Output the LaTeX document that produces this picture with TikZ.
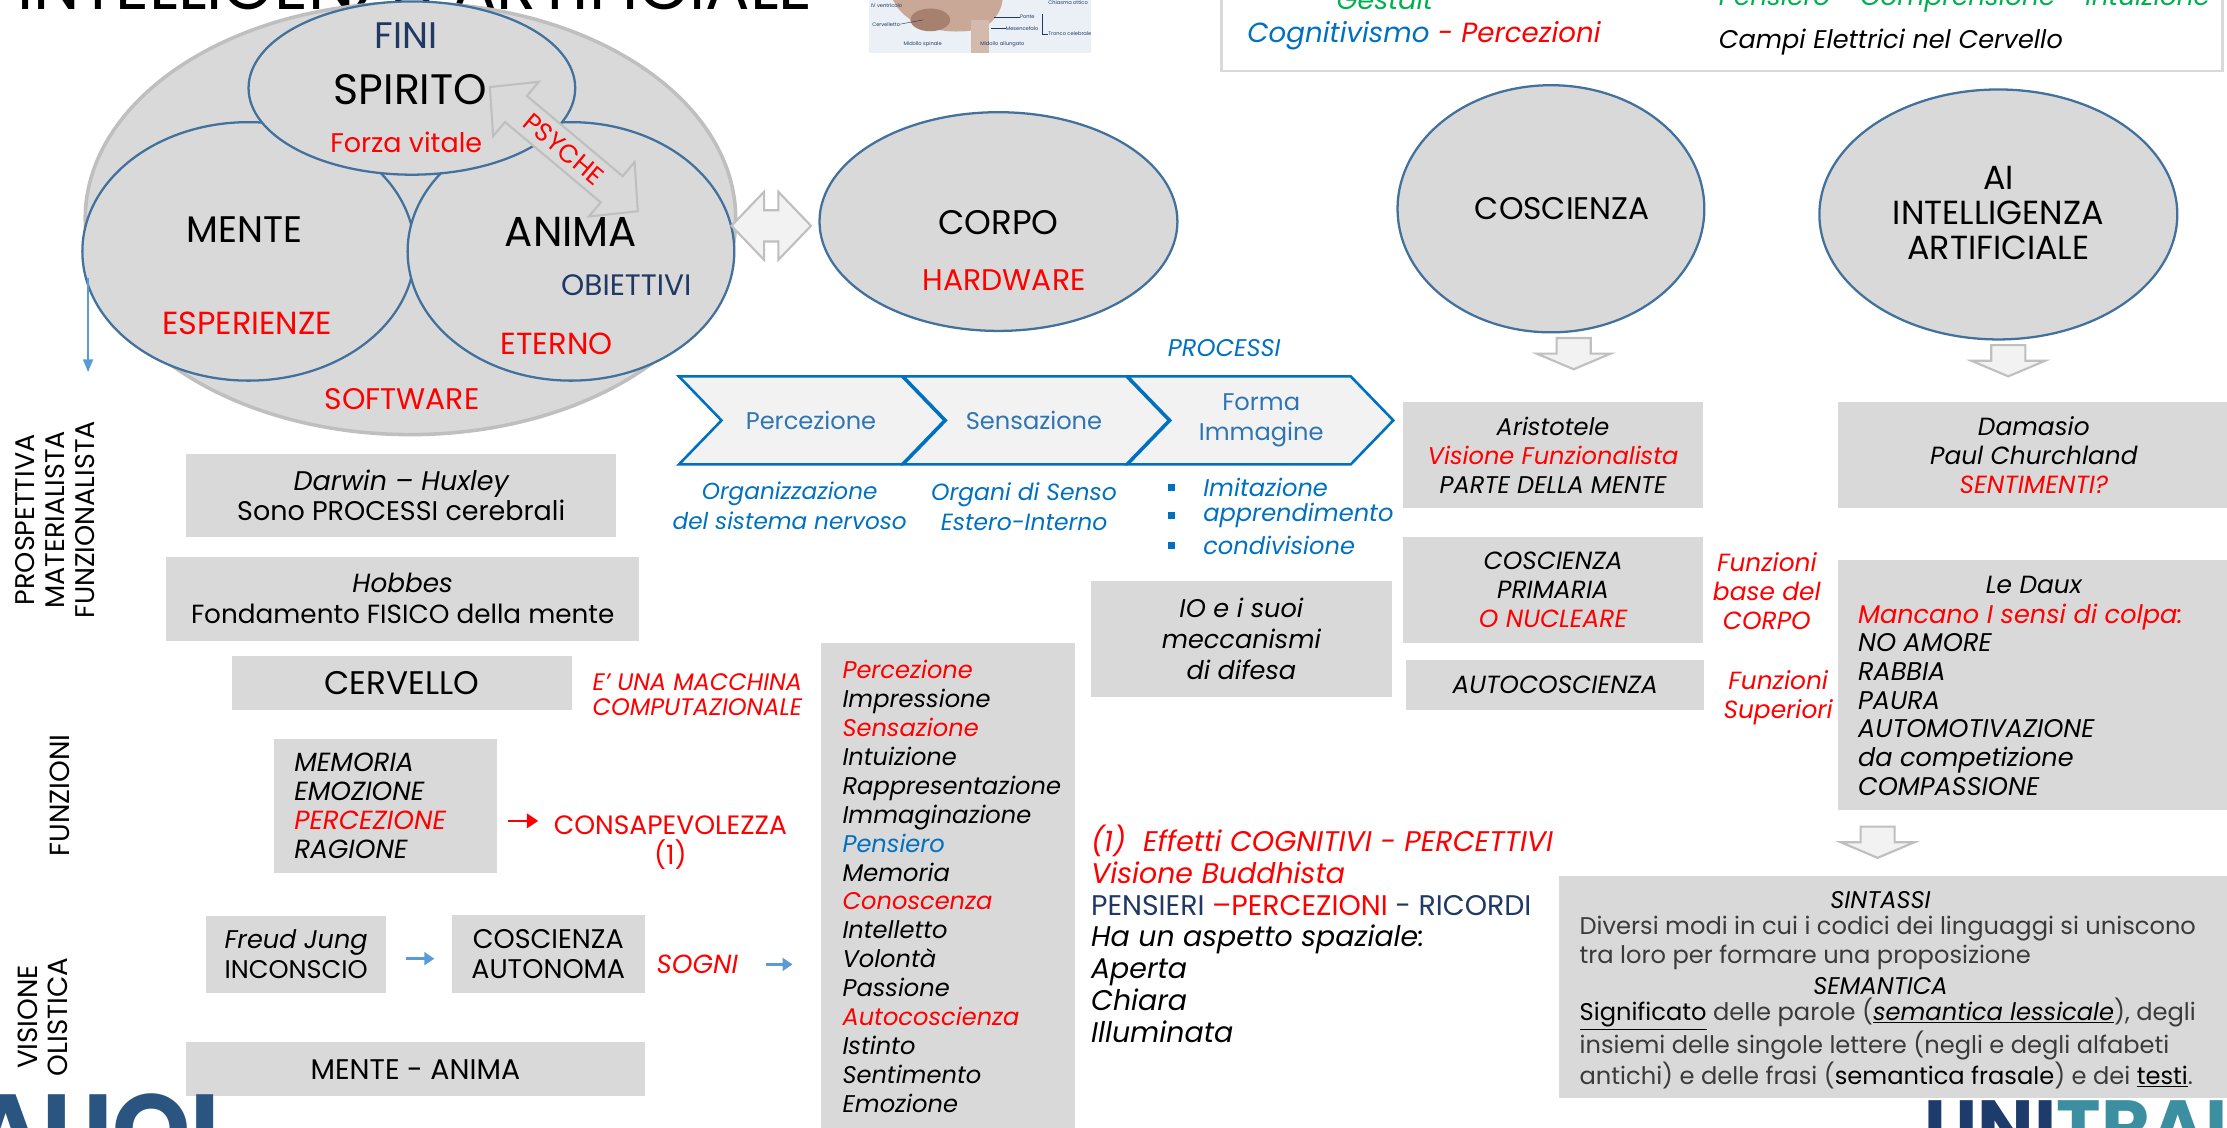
\documentclass[tikz,border=0pt]{standalone}
\usepackage{fontspec}
\setmainfont{Poppins}
\usetikzlibrary{shapes.geometric,arrows.meta}

\definecolor{gfill}{HTML}{D9D9D9}
\definecolor{ellblue}{HTML}{41719C}
\definecolor{ringgrey}{HTML}{BFBFBF}
\definecolor{navy}{HTML}{1F3864}
\definecolor{pred}{HTML}{FF0000}
\definecolor{pblue}{HTML}{0070C0}
\definecolor{chevtext}{HTML}{2E75B6}
\definecolor{pgreen}{HTML}{00B050}
\definecolor{lblue}{HTML}{5B9BD5}
\definecolor{arrfill}{HTML}{F2F2F2}
\definecolor{softblack}{HTML}{3A3A3A}
\definecolor{logonavy}{HTML}{2A5580}
\definecolor{logodeep}{HTML}{1D3C6C}
\definecolor{logoteal}{HTML}{3C8FA0}
\definecolor{brainbg}{HTML}{EAF0F5}
\definecolor{brainpink}{HTML}{C9A898}
\definecolor{braindark}{HTML}{A88070}

\newcommand\fsz[2]{\fontsize{#1pt}{#2pt}\selectfont}

\begin{document}
\begin{tikzpicture}[x=1pt,y=-1pt,
  gbox/.style={fill=gfill, inner sep=0pt, align=center},
  ell/.style={ellipse, draw=ellblue, fill=gfill, line width=1.6pt, inner sep=0pt},
  blockarr/.style={fill=arrfill, draw=ringgrey, line width=1.5pt, line join=miter},
  chev/.style={fill=arrfill, draw=pblue, line width=1.8pt, line join=miter},
  txt/.style={inner sep=0pt, align=center},
  lbarrow/.style={draw=lblue, line width=2.2pt, -{Triangle[length=7pt,width=9pt]}},
  dnarr/.pic={\draw[blockarr] (-12,0) -- (12,0) -- (12,11) -- (26,11) -- (0,22) -- (-26,11) -- (-12,11) -- cycle;},
]
\useasboundingbox (0,0) rectangle (1568,794);
\clip (0,0) rectangle (1568,794);

% ---------- title ----------
\node[txt, anchor=base west, font=\fsz{46.5}{50}] (title) at (12,7) {INTELLIGENZA ARTIFICIALE};

% ---------- brain sketch ----------
\fill[brainbg] (612,-2) rectangle (768,37);
\fill[brainpink] (628,-2) .. controls (636,20) and (668,26) .. (692,20) .. controls (702,14) and (706,5) .. (706,-2) -- cycle;
\fill[braindark] (655,14) ellipse [x radius=14, y radius=8];
\fill[brainpink!80] (684,14) rectangle (696,37);
\begin{scope}[font=\fsz{3.6}{4}, inner sep=0pt, navy]
  \node[anchor=west] (bl1) at (613,4) {IV ventricolo};
  \node[anchor=west] (bl2) at (614,17) {Cervelletto};
  \node[anchor=west] (bl3) at (636,31) {Midollo spinale};
  \node[anchor=west] (bl4) at (690,31) {Midollo allungato};
  \node[anchor=west] (bl5) at (718,12) {Ponte};
  \node[anchor=west] (bl6) at (708,20) {Mesencefalo};
  \node[anchor=west] (bl7) at (738,24) {Tronco celebrale};
  \node[anchor=west] (bl8) at (738,2) {Chiasma ottico};
  \draw[line width=0.3pt] (bl2.east) -- (650,14);
  \draw[line width=0.3pt] (bl5.west) -- (700,12);
  \draw[line width=0.3pt] (bl6.west) -- (698,20);
  \draw[line width=0.3pt] (bl7.west) -- (734,24) -- (734,10);
\end{scope}

% ---------- legend box ----------
\node[draw=gfill, line width=2pt, fill=white, minimum width=705, minimum height=80, inner sep=0pt] (legend) at (1212.5,10) {};
\node[txt, anchor=base, font=\fsz{19}{22}\itshape, text=pgreen] (gestalt) at (975,7) {Gestalt};
\node[txt, anchor=base west, font=\fsz{18.5}{22}\itshape, text=pgreen] (pensiero) at (1210,4) {Pensiero - Comprensione - Intuizione};
\node[txt, anchor=base west, font=\fsz{19.5}{22}\itshape] (cognit) at (878,30) {\textcolor{pblue}{Cognitivismo}\ \textcolor{pred}{- Percezioni}};
\node[txt, anchor=base west, font=\fsz{18}{22}\itshape] (campi) at (1210,34) {Campi Elettrici nel Cervello};

% ---------- psyche diagram ----------
\node[ellipse, fill=gfill, draw=ringgrey, line width=2.5pt, minimum width=458, minimum height=304, inner sep=0pt] (psy) at (289,154) {};
\node[ell, minimum width=234, minimum height=182] (mente) at (175,177) {};
\node[ell, minimum width=230, minimum height=182] (anima) at (402,177) {};
\node[ell, minimum width=230, minimum height=122] (spirito) at (290,62) {};

\begin{scope}[shift={(397,105)}, rotate=-40]
  \draw[fill=gfill, draw=ringgrey, line width=1.5pt, line join=miter]
    (-68,0) -- (-44,25) -- (-44,12) -- (44,12) -- (44,25) -- (68,0) -- (44,-25) -- (44,-12) -- (-44,-12) -- (-44,-25) -- cycle;
  \node[txt, transform shape, font=\fsz{18}{20}, text=pred] (psyche) at (0,0) {PSYCHE};
\end{scope}

\node[txt, font=\fsz{26}{28}, text=navy] (fini) at (286,25) {FINI};
\node[txt, font=\fsz{30}{32}] (spiritot) at (289,63) {SPIRITO};
\node[txt, font=\fsz{19}{22}, text=pred] (forza) at (286,100) {Forza vitale};
\node[txt, font=\fsz{26}{28}] (mentet) at (172,162) {MENTE};
\node[txt, font=\fsz{29.5}{32}] (animat) at (402,163) {ANIMA};
\node[txt, font=\fsz{20.8}{23}, text=navy] (obiet) at (441,201) {OBIETTIVI};
\node[txt, font=\fsz{22.5}{24}, text=pred] (esper) at (174,228) {ESPERIENZE};
\node[txt, font=\fsz{21.5}{24}, text=pred] (eterno) at (392,242) {ETERNO};
\node[txt, font=\fsz{21}{24}, text=pred] (software) at (283,281) {SOFTWARE};

\coordinate (va) at (62,196);
\coordinate (vb) at (62,262);
\draw[draw=lblue, line width=1.4pt, -{Triangle[length=9pt,width=7pt]}] (va) -- (vb);

% ---------- body ----------
\draw[blockarr] (515,159) -- (538,135) -- (538,148) -- (548,148) -- (548,135) -- (571,159) -- (548,183) -- (548,170) -- (538,170) -- (538,183) -- cycle;
\node[ell, minimum width=252, minimum height=154] (corpo) at (703,156) {};
\node[txt, font=\fsz{24}{26}] (corpot) at (703,157) {CORPO};
\node[txt, font=\fsz{21}{24}, text=pred] (hardw) at (707,197) {HARDWARE};

% ---------- consciousness and AI ----------
\node[ell, minimum width=216, minimum height=174] (cosc) at (1092,147) {};
\node[txt, font=\fsz{22}{24}] (cosct) at (1100,147) {COSCIENZA};
\node[ell, minimum width=252, minimum height=176] (ai) at (1407,151) {};
\node[txt, font=\fsz{23.5}{24.5}] (ait) at (1407,150) {AI\\INTELLIGENZA\\ARTIFICIALE};
\pic at (1108,238) {dnarr};
\pic at (1414,243) {dnarr};
\pic at (1322,582) {dnarr};

% ---------- processes ----------
\node[txt, font=\fsz{17}{20}\itshape, text=pblue] (processi) at (862,245) {PROCESSI};
\foreach \x in {478,636,794}
  \draw[chev] (\x,265) -- (\x+157,265) -- (\x+187,296) -- (\x+157,327) -- (\x,327) -- (\x+30,296) -- cycle;
\node[txt, font=\fsz{17}{21}, text=chevtext] (c1) at (571,296) {Percezione};
\node[txt, font=\fsz{17}{21}, text=chevtext] (c2) at (728,296) {Sensazione};
\node[txt, font=\fsz{17}{21}, text=chevtext] (c3) at (888,296) {Forma\\Immagine};
\node[txt, font=\fsz{16.3}{21}\itshape, text=pblue] (org) at (556,356) {Organizzazione\\del sistema nervoso};
\node[txt, font=\fsz{16.5}{21}\itshape, text=pblue] (sens) at (721,357) {Organi di Senso\\Estero-Interno};
\foreach \y/\t [count=\i] in {343/Imitazione, 363/apprendimento, 384/condivisione}{
  \node[fill=pblue, minimum size=5pt, inner sep=0pt] (b\i) at (825,\y) {};
  \node[txt, anchor=west, font=\fsz{17}{21}\itshape, text=pblue] (bt\i) at (847,\y) {\t};
}

% ---------- side labels ----------
\node[txt, rotate=90, font=\fsz{19}{21}] (prosp) at (39,366) {PROSPETTIVA\\MATERIALISTA\\FUNZIONALISTA};
\node[txt, rotate=90, font=\fsz{19.5}{21}] (funz) at (42,560) {FUNZIONI};
\node[txt, rotate=90, font=\fsz{19.5}{21}] (olist) at (30,716) {VISIONE\\OLISTICA};

% ---------- left column ----------
\node[gbox, minimum width=303, minimum height=58, font=\fsz{19}{21}] (darwin) at (282.5,349) {{\itshape Darwin -- Huxley}\\Sono PROCESSI cerebrali};
\node[gbox, minimum width=333, minimum height=59, font=\fsz{18.5}{22}] (hobbes) at (283.5,421.5) {{\itshape Hobbes}\\Fondamento FISICO della mente};
\node[gbox, minimum width=240, minimum height=38, font=\fsz{23}{24}] (cerv) at (283,481) {CERVELLO};
\node[txt, font=\fsz{16.8}{17.5}\itshape, text=pred] (macch) at (491,489) {E' UNA MACCHINA\\COMPUTAZIONALE};
\node[gbox, minimum width=157, minimum height=95] (mem) at (271.5,567.5) {};
\node[txt, anchor=west, align=left, font=\fsz{18.5}{20.3}\itshape] (memt) at (207,567.5) {MEMORIA\\EMOZIONE\\\textcolor{pred}{PERCEZIONE}\\RAGIONE};
\coordinate (ra) at (358,578);
\coordinate (rb) at (379,578);
\draw[draw=pred, line width=2pt, -{Triangle[length=8pt,width=10pt]}] (ra) -- (rb);
\node[txt, font=\fsz{18.7}{21}, text=pred] (consap) at (472,593) {CONSAPEVOLEZZA\\(1)};
\node[gbox, minimum width=127, minimum height=54, font=\fsz{18}{21}] (freud) at (208.5,672) {{\itshape Freud Jung}\\INCONSCIO};
\node[gbox, minimum width=136, minimum height=55, font=\fsz{19}{21}] (autonoma) at (386,671.5) {COSCIENZA\\AUTONOMA};
\draw[lbarrow] ([xshift=14pt]freud.east |- 0,675) -- ([xshift=-12pt]autonoma.west |- 0,675);
\node[txt, font=\fsz{18.5}{21}\itshape, text=pred] (sogni) at (491,679) {SOGNI};
\coordinate (sa) at (539,679);
\coordinate (sb) at (558,679);
\draw[lbarrow] (sa) -- (sb);
\node[gbox, minimum width=323, minimum height=38, font=\fsz{20}{22}] (menteanima) at (292.5,753) {MENTE - ANIMA};

% ---------- list of faculties ----------
\node[gbox, minimum width=179, minimum height=352] (lista) at (667.5,629) {};
\foreach \t/\c [count=\i from 0] in {Percezione/pred, Impressione/black, Sensazione/pred, Intuizione/black, Rappresentazione/black, Immaginazione/black, Pensiero/pblue, Memoria/black, Conoscenza/pred, Intelletto/black, Volontà/black, Passione/black, Autocoscienza/pred, Istinto/black, Sentimento/black, Emozione/black}
  \node[inner sep=0pt, anchor=base west, font=\fsz{17}{20}\itshape, text=\c] (li\i) at (593,478+20.33*\i) {\t};

% ---------- IO and notes ----------
\node[gbox, minimum width=212, minimum height=82, font=\fsz{18}{22}\itshape] (io) at (874,450) {IO e i suoi\\meccanismi\\di difesa};
\node[txt, anchor=west, align=left, font=\fsz{20}{22.5}\itshape] (note) at (768,657.5) {\textcolor{pred}{(1)\hspace{12pt}Effetti COGNITIVI - PERCETTIVI}\\\textcolor{pred}{Visione Buddhista}\\{\upshape\textcolor{navy}{PENSIERI}\ \textcolor{pred}{--PERCEZIONI}\ \textcolor{navy}{- RICORDI}}\\Ha un aspetto spaziale:\\Aperta\\Chiara\\Illuminata};

% ---------- consciousness column ----------
\node[gbox, minimum width=211, minimum height=75, font=\fsz{17}{20.5}\itshape] (arist) at (1093.5,320.5) {Aristotele\\\textcolor{pred}{Visione Funzionalista}\\PARTE DELLA MENTE};
\node[gbox, minimum width=211, minimum height=75, font=\fsz{17.5}{20.5}\itshape] (primaria) at (1093.5,415.5) {COSCIENZA\\PRIMARIA\\\textcolor{pred}{O NUCLEARE}};
\node[gbox, minimum width=210, minimum height=35, font=\fsz{17.5}{20.5}\itshape] (autoc) at (1095,482.5) {AUTOCOSCIENZA};
\node[txt, font=\fsz{17.5}{20.5}\itshape, text=pred] (fbase) at (1244,416) {Funzioni\\base del\\CORPO};
\node[txt, font=\fsz{17.5}{20.5}\itshape, text=pred] (fsup) at (1252,491) {Funzioni\\Superiori};

% ---------- AI column ----------
\node[gbox, minimum width=281, minimum height=75] (damasio) at (1434.5,320.5) {};
\node[txt, font=\fsz{17.5}{20.5}\itshape] (damt) at (1432,320.5) {Damasio\\Paul Churchland\\\textcolor{pred}{SENTIMENTI?}};
\node[gbox, minimum width=281, minimum height=176] (ledaux) at (1434.5,482) {};
\node[txt, font=\fsz{17.5}{20.5}\itshape] (ledt) at (1432,412) {Le Daux};
\node[txt, anchor=west, align=left, font=\fsz{18}{20.2}\itshape] (ledl) at (1308,492.5) {\textcolor{pred}{Mancano I sensi di colpa:}\\NO AMORE\\RABBIA\\PAURA\\AUTOMOTIVAZIONE\\da competizione\\COMPASSIONE};

% ---------- language ----------
\node[gbox, minimum width=477, minimum height=156] (lang) at (1336.5,695) {};
\node[txt, font=\fsz{17}{20}\itshape] (sint) at (1324,634) {SINTASSI};
\node[txt, anchor=west, align=left, font=\fsz{17}{20}, text=softblack] (sintp) at (1112,664) {Diversi modi in cui i codici dei linguaggi si uniscono\\tra loro per formare una proposizione};
\node[txt, font=\fsz{17}{20}\itshape] (sem) at (1324,694) {SEMANTICA};
\node[txt, anchor=west, align=left, font=\fsz{17}{20}, text=softblack] (semp) at (1112,734.5) {\textcolor{black}{\underline{Significato}} delle parole (\textcolor{black}{\underline{\itshape semantica lessicale}}), degli\\insiemi delle singole lettere (negli e degli alfabeti\\antichi) e delle frasi (\textcolor{black}{semantica frasale}) e dei \textcolor{black}{\underline{testi}}.};

% ---------- logos ----------
\node[txt, anchor=north west, font=\fsz{70}{70}\bfseries, text=logonavy] (logol) at (-22,770) {AUOL};
\node[txt, anchor=north west, font=\fsz{53}{53}\bfseries] (logor) at (1355,775) {\textcolor{logodeep}{UNI}\textcolor{logoteal}{TRAI}};
\end{tikzpicture}
\end{document}
